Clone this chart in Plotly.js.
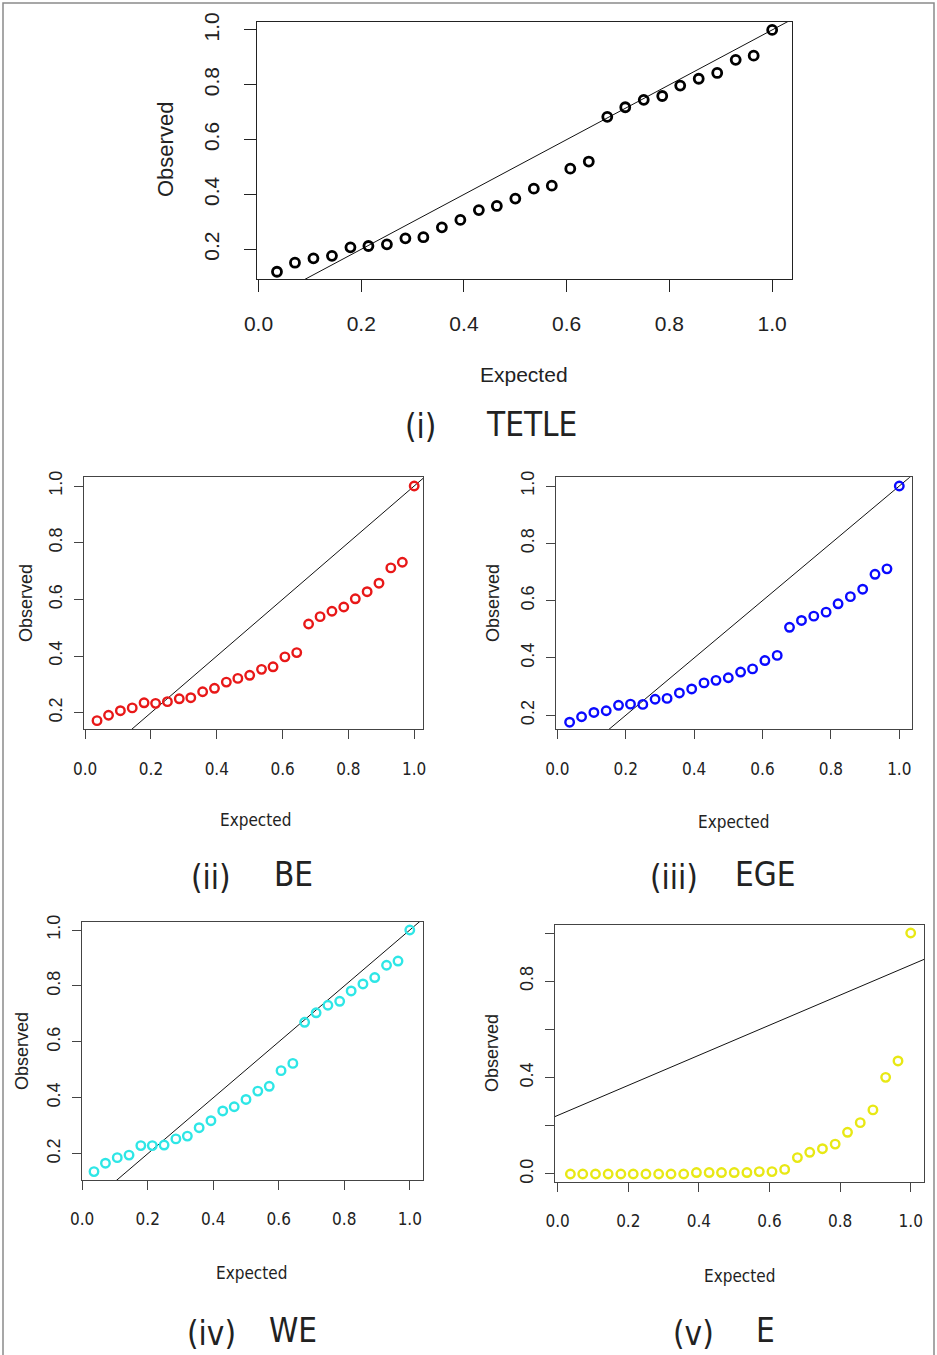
<!DOCTYPE html>
<html>
<head>
<meta charset="utf-8">
<script src="https://cdn.plot.ly/plotly-3.0.1.min.js"></script>
<style>html,body{margin:0;padding:0;background:#fff;}#chart{width:937px;height:1355px;}</style>
</head>
<body>
<div id="chart"></div>
<script>
// ---- data ----
const expected = [0.036,0.071,0.107,0.143,0.179,0.214,0.25,0.286,0.321,0.357,0.393,0.429,0.464,0.5,
                  0.536,0.571,0.607,0.643,0.679,0.714,0.75,0.786,0.821,0.857,0.893,0.929,0.964,1.0];
const obsTETLE = [0.118,0.151,0.167,0.176,0.207,0.212,0.218,0.240,0.244,0.280,0.307,0.343,0.358,0.385,
                  0.421,0.432,0.494,0.520,0.683,0.718,0.745,0.759,0.797,0.822,0.843,0.891,0.906,1.0];
const obsBE    = [0.172,0.191,0.207,0.217,0.235,0.233,0.239,0.249,0.253,0.274,0.286,0.308,0.321,0.332,
                  0.353,0.362,0.397,0.412,0.513,0.539,0.558,0.573,0.602,0.627,0.657,0.711,0.731,1.0];
const obsEGE   = [0.176,0.195,0.210,0.216,0.235,0.239,0.238,0.256,0.259,0.278,0.292,0.313,0.322,0.331,
                  0.351,0.362,0.391,0.409,0.507,0.531,0.546,0.560,0.589,0.614,0.640,0.692,0.711,1.0];
const obsWE    = [0.136,0.166,0.186,0.195,0.229,0.229,0.231,0.253,0.263,0.293,0.318,0.353,0.368,0.394,
                  0.424,0.441,0.497,0.523,0.670,0.704,0.731,0.745,0.782,0.807,0.830,0.874,0.889,1.0];
const obsE     = [0,0,0,0,0,0,0,0,0,0,0.006,0.006,0.006,0.006,
                  0.006,0.010,0.010,0.019,0.068,0.090,0.105,0.124,0.173,0.213,0.266,0.401,0.469,1.0];
const panelNames = ["(i)","(ii)","(iii)","(iv)","(v)"];
const modelNames = ["TETLE","BE","EGE","WE","E"];
const lineIntercept = [0,0,0,0,0.243];
const lineSlope     = [1,1,1,1,0.624];
const xTickVals = [0,0.2,0.4,0.6,0.8,1.0];
const xTickText = ["0.0","0.2","0.4","0.6","0.8","1.0"];
const yTickVals = [0.2,0.4,0.6,0.8,1.0];
const yTickText = ["0.2","0.4","0.6","0.8","1.0"];
const yTickValsE = [0,0.2,0.4,0.6,0.8,1.0];
const yTickTextE = ["0.0","","0.4","","0.8",""];

// ---- layout settings ----
const W = 937, H = 1355;
const REG = "Liberation Sans, Arial, Helvetica, sans-serif";
const NAR = "Liberation Sans Narrow, Arial Narrow, DejaVu Sans Condensed, sans-serif";
const observed = [obsTETLE, obsBE, obsEGE, obsWE, obsE];
const colors = ["#000000","#e81818","#0a0aff","#2ee6e6","#e8e814"];
// plot boxes in pixels: [left, top, right, bottom]
const boxes = [[257,21.7,792,279],[84,477.3,423.3,729.3],[556,477.3,911.7,729.3],
               [81.7,921.7,423.3,1180],[555,925,924.3,1181.7]];
const xRanges = [[-0.0029,1.0386],[-0.0036,1.0277],[-0.0038,1.0363],[-0.0015,1.0412],[-0.0076,1.0385]];
const yRanges = [[0.0916,1.030],[0.1414,1.0307],[0.1512,1.0304],[0.106,1.0297],[-0.032,1.0332]];
// text positions (px)
const obsPos = [[165,150],[26,603],[493,603],[22,1051],[492,1053]];
const expPos = [[524,374],[255,820],[733,822],[251,1273],[739,1276]];
const capPos = [[[420,427],[531,424]],[[211,877],[293,874]],[[674,877],[765,874]],
                [[211,1333],[293,1330]],[[693,1333],[765,1330]]];

const px = v => v / W;
const py = v => 1 - v / H;

const traces = [];
const layout = {
  width: W, height: H,
  margin: {l:0, r:0, t:0, b:0},
  paper_bgcolor: "#ffffff", plot_bgcolor: "#ffffff",
  showlegend: false,
  annotations: [],
  shapes: [{type:"rect", xref:"paper", yref:"paper", x0:px(3), x1:px(934), y0:py(1360), y1:py(3),
            line:{color:"#8a8a8a", width:1.5}}]
};

for (let k = 0; k < 5; k++) {
  const sfx = k === 0 ? "" : String(k + 1);
  const xa = "x" + sfx, ya = "y" + sfx;
  const big = k === 0;
  const b = boxes[k];
  const [x0, x1] = xRanges[k];
  // reference line
  traces.push({
    type: "scatter", mode: "lines", xaxis: xa, yaxis: ya,
    x: [x0, x1],
    y: [lineIntercept[k] + lineSlope[k] * x0, lineIntercept[k] + lineSlope[k] * x1],
    line: {color: "#111111", width: 1}, hoverinfo: "skip"
  });
  traces.push({
    type: "scatter", mode: "markers", xaxis: xa, yaxis: ya,
    x: expected, y: observed[k], cliponaxis: false,
    marker: {symbol: "circle-open", size: big ? 9 : 8.5, color: colors[k],
             line: {color: colors[k], width: big ? 2.8 : 2.4}},
    name: modelNames[k]
  });
  const tickLen = big ? 12 : 9;
  layout["xaxis" + sfx] = {
    domain: [px(b[0]), px(b[2])], range: xRanges[k], anchor: ya,
    showgrid: false, zeroline: false, showline: true, mirror: true,
    linecolor: big ? "#222" : "#444", linewidth: 1,
    ticks: "outside", ticklen: tickLen, tickcolor: big ? "#222" : "#444", tickwidth: 1,
    tickmode: "array", tickvals: xTickVals, ticktext: xTickText,
    ticklabelstandoff: big ? 14 : 15,
    tickfont: {family: big ? REG : NAR, size: big ? 21 : 17, color: "#222"},
    fixedrange: true
  };
  layout["yaxis" + sfx] = {
    domain: [py(b[3]), py(b[1])], range: yRanges[k], anchor: xa,
    showgrid: false, zeroline: false, showline: true, mirror: true,
    linecolor: big ? "#222" : "#444", linewidth: 1,
    ticks: "outside", ticklen: tickLen, tickcolor: big ? "#222" : "#444", tickwidth: 1,
    tickmode: "array",
    tickvals: k === 4 ? yTickValsE : yTickVals,
    ticktext: k === 4 ? yTickTextE : yTickText,
    tickangle: -90, ticklabelstandoff: big ? 17 : 5,
    tickfont: {family: REG, size: big ? 21 : 18, color: "#222"},
    fixedrange: true
  };
  // axis titles
  layout.annotations.push({
    xref: "paper", yref: "paper", x: px(obsPos[k][0]), y: py(obsPos[k][1]),
    text: "Observed", showarrow: false, textangle: -90,
    xanchor: "center", yanchor: "middle",
    font: {family: REG, size: big ? 22 : 18, color: "#222"}
  });
  layout.annotations.push({
    xref: "paper", yref: "paper", x: px(expPos[k][0]), y: py(expPos[k][1]),
    text: "Expected", showarrow: false,
    xanchor: "center", yanchor: "middle",
    font: {family: big ? REG : NAR, size: big ? 21 : 17, color: "#222"}
  });
  // captions
  layout.annotations.push({
    xref: "paper", yref: "paper", x: px(capPos[k][0][0]), y: py(capPos[k][0][1]),
    text: panelNames[k], showarrow: false, xanchor: "center", yanchor: "middle",
    font: {family: NAR, size: 33, color: "#222"}
  });
  layout.annotations.push({
    xref: "paper", yref: "paper", x: px(capPos[k][1][0]), y: py(capPos[k][1][1]),
    text: modelNames[k], showarrow: false, xanchor: "center", yanchor: "middle",
    font: {family: NAR, size: 33, color: "#222"}
  });
}

Plotly.newPlot("chart", traces, layout, {displayModeBar: false, staticPlot: true});
</script>
</body>
</html>
